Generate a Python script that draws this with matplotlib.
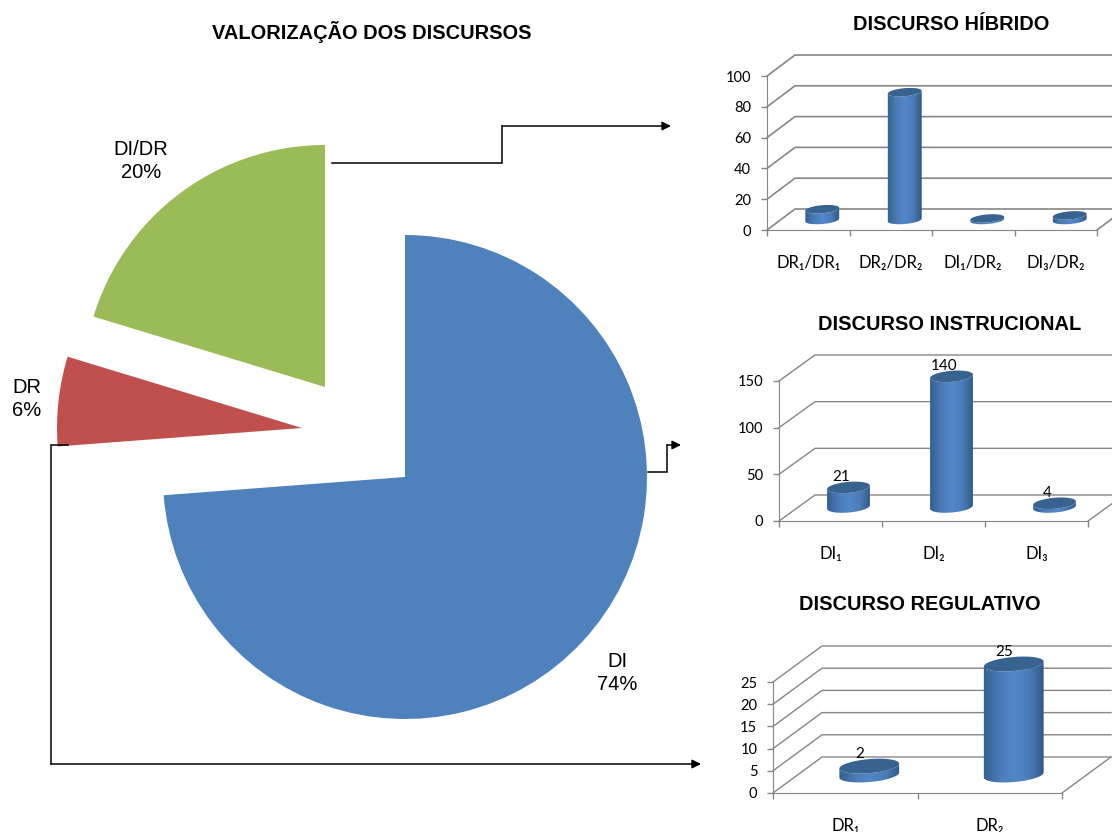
import numpy as np
import matplotlib
matplotlib.use('Agg')
import matplotlib.pyplot as plt
from matplotlib.colors import LinearSegmentedColormap
from matplotlib.patches import Polygon

W, H = 1112, 832
PT = 0.72  # 1 px in points at dpi 100

pie_labels = ['DI', 'DR', 'DI/DR']
pie_values = [73.8, 5.9, 20.3]

hib_labels = ['DR₁/DR₁', 'DR₂/DR₂', 'DI₁/DR₂', 'DI₃/DR₂']
hib_values = [7, 83, 1, 3]
hib_ticks = [0, 20, 40, 60, 80, 100]

ins_labels = ['DI₁', 'DI₂', 'DI₃']
ins_values = [21, 140, 4]
ins_ticks = [0, 50, 100, 150]

reg_labels = ['DR₁', 'DR₂']
reg_values = [2, 25]
reg_ticks = [0, 5, 10, 15, 20, 25]

GREY = '#868686'
TICK_FONT = ['Lato', 'DejaVu Sans']
cyl_cmap = LinearSegmentedColormap.from_list('cyl', ['#34608f', '#4a7ab5', '#5287c8', '#4a7cb8', '#2f5785'])

fig = plt.figure(figsize=(W / 100, H / 100), dpi=100)
main = fig.add_axes([0, 0, 1, 1])


def draw_pie():
    wedges, _ = main.pie(pie_values, startangle=90, counterclock=False, radius=242,
                         colors=['#4f81bd', '#c0504d', '#9bbb59'])
    # each slice was dragged out by hand in the original
    centers = [(405, 477), (302, 428), (325, 387)]
    for w, c in zip(wedges, centers):
        w.set_center((c[0], H - c[1]))
    wedges[1].set_radius(245)
    main.set_xlim(0, W)
    main.set_ylim(0, H)
    main.set_aspect('auto')
    main.axis('off')

    spots = [(617, 673), (27, 399), (141, 161)]
    for lab, val, s in zip(pie_labels, pie_values, spots):
        main.text(s[0], H - s[1], lab + '\n' + str(round(val)) + '%', ha='center', va='center',
                  fontsize=14.5, family='Liberation Sans', linespacing=1.3)


def connector(pts):
    xs = [p[0] for p in pts]
    ys = [H - p[1] for p in pts]
    main.plot(xs[:-1], ys[:-1], color='black', lw=1.1, solid_joinstyle='miter')
    main.annotate('', xy=(xs[-1], ys[-1]), xytext=(xs[-2], ys[-2]),
                  arrowprops=dict(arrowstyle='-|>', color='black', lw=1.1, shrinkA=0, shrinkB=0,
                                  mutation_scale=13))


def title(txt, x, y, size=14.4):
    main.text(x, H - y, txt, ha='center', va='center', fontsize=size, fontweight='bold',
              family='Liberation Sans', color='black')


def cylinder(ax, x, val, rx, ry, base_dx, base_dy, sx, sy):
    # sx, sy are px per data unit, the ellipse is worked out in px
    phi = np.radians(5)
    t0 = np.arctan2(-ry * np.sin(phi), rx * np.cos(phi))

    def ell(t, cx, cy):
        ex = rx * np.cos(t) * np.cos(phi) - ry * np.sin(t) * np.sin(phi)
        ey = rx * np.cos(t) * np.sin(phi) + ry * np.sin(t) * np.cos(phi)
        return np.column_stack([cx + ex / sx, cy + ey / sy])

    cx = x + base_dx / sx
    cy0 = base_dy / sy
    cy1 = cy0 + val
    low = ell(np.linspace(t0 - np.pi, t0, 40), cx, cy0)
    high = ell(np.linspace(t0, t0 - np.pi, 40), cx, cy1)
    body = Polygon(np.vstack([low, high]), closed=True, transform=ax.transData, fc='none', ec='none')
    body.set_clip_on(False)
    ax.add_patch(body)
    grad = np.linspace(0, 1, 128).reshape(1, -1)
    im = ax.imshow(grad, cmap=cyl_cmap, aspect='auto', zorder=3, interpolation='bilinear',
                   extent=[cx - rx * 1.02 / sx, cx + rx * 1.02 / sx, cy0 - 2 * ry / sy, cy1 + 2 * ry / sy])
    im.set_clip_box(fig.bbox)  # the top can stick out of the axes
    im.set_clip_path(body)
    top = Polygon(ell(np.linspace(0, 2 * np.pi, 80), cx, cy1), closed=True, fc='#38628f', ec='none', zorder=4)
    top.set_clip_on(False)
    ax.add_patch(top)
    return cx, cy1


def chart3d(x0, x1, y0, y1, labels, values, ticks, depth, rx, ry, base, show_vals, grid_lw=1.0):
    ax = fig.add_axes([x0 / W, 1 - y0 / H, (x1 - x0) / W, (y0 - y1) / H])
    ax.patch.set_alpha(0)
    n = len(labels)
    ymax = ticks[-1]
    sx = (x1 - x0) / n
    sy = (y0 - y1) / ymax
    dx = depth[0] / sx
    dy = depth[1] / sy
    # walls: slanted line from front to back, then along the back wall
    right = n - 0.5
    for v in ticks:
        ax.plot([-0.5, -0.5 + dx, right + dx], [v, v + dy, v + dy], color=GREY, lw=grid_lw,
                clip_on=False, zorder=1, solid_joinstyle='miter')
    ax.plot([right, right + dx], [0, dy], color=GREY, lw=grid_lw, clip_on=False, zorder=1)
    for i in range(n):
        tx, ty = cylinder(ax, i, values[i], rx, ry, base[0], base[1], sx, sy)
        if show_vals:
            ax.text(tx - rx / 3 / sx, ty + (ry + 5) / sy, str(values[i]), ha='center', va='center',
                    fontsize=11, family=TICK_FONT, zorder=5, clip_on=False)
    ax.set_xlim(-0.5, n - 0.5)
    ax.set_ylim(0, ymax)
    ax.set_xticks(range(n))
    ax.set_xticklabels(labels, family=TICK_FONT, fontsize=12)
    ax.set_xticks(np.arange(n + 1) - 0.5, minor=True)
    ax.set_yticks(ticks)
    ax.set_yticklabels([str(t) for t in ticks], family=TICK_FONT, fontsize=10.5)
    ax.tick_params(axis='x', which='major', length=0, pad=19 * PT + 4)
    ax.tick_params(axis='x', which='minor', length=6 * PT, color=GREY, width=1)
    ax.tick_params(axis='y', length=6 * PT, color=GREY, width=1, pad=7)
    for s in ['top', 'right']:
        ax.spines[s].set_visible(False)
    for s in ['left', 'bottom']:
        ax.spines[s].set_color(GREY)
    return ax


draw_pie()
connector([(332, 163), (502, 163), (502, 126), (671, 126)])
connector([(648, 472), (667, 472), (667, 445), (681, 445)])
connector([(68, 445), (51, 445), (51, 764), (701, 764)])

title('VALORIZAÇÃO DOS DISCURSOS', 372, 32)
title('DISCURSO HÍBRIDO', 951, 24)
title('DISCURSO INSTRUCIONAL', 950, 324)
title('DISCURSO REGULATIVO', 920, 605)

chart3d(767, 1097, 230, 76, hib_labels, hib_values, hib_ticks, (28, 21), 17, 4, (14, 10), False, 1.2)
chart3d(779, 1088, 521, 381, ins_labels, ins_values, ins_ticks, (36, 26), 21.5, 5.5, (18, 14), True)
chart3d(773, 1062, 793, 682, reg_labels, reg_values, reg_ticks, (49, 36), 30, 7, (24, 18), True)

fig.savefig('out.png', dpi=100)
